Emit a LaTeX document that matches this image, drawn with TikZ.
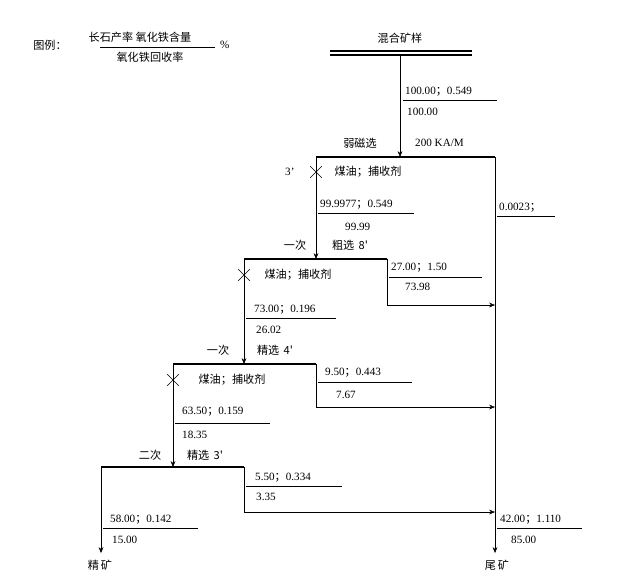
\documentclass[tikz,border=0pt]{standalone}
\usepackage{fontspec}
\setmainfont{Liberation Serif}
\newfontfamily\cjk{Noto Sans CJK SC}
\usetikzlibrary{arrows.meta}
\tikzset{
  bar/.style={line width=2.2pt},
  flow/.style={->, >={Stealth[length=5pt,width=4pt]}},
  lbl/.style={font=\fontsize{9.5}{11}\selectfont\cjk, inner sep=0pt},
  val/.style={font=\fontsize{9.5}{11}\selectfont, inner sep=0pt, anchor=west},
}
\newcommand{\sepc}{{\cjk ；}}
\newcommand{\crossmark}[1]{\draw (#1)++(-5pt,-5pt) -- ++(10pt,10pt) (#1)++(-5pt,5pt) -- ++(10pt,-10pt);}
\begin{document}
\begin{tikzpicture}[x=0.03cm,y=-0.03cm]
\useasboundingbox (0,0) rectangle (643,576);
% legend
\node[lbl] (lg) at (50,45) {图例：};
\node[lbl] (lgn) at (140,37) {长石产率 氧化铁含量};
\draw (100,47) -- (215,47);
\node[lbl] (lgd) at (150,57) {氧化铁回收率};
\node[val] (lgp) at (220,45) {\%};
% feed
\node[lbl] (feed) at (400,38) {混合矿样};
\draw[line width=1.2pt] (330,51) -- (472,51) (330,55) -- (472,55);
\coordinate (f0) at (400,55);
\coordinate (r1) at (400,157);
\draw[flow] (f0) -- (r1);
\node[val] at (405,92) {100.00\sepc 0.549};
\draw (403,100) -- (497,100);
\node[val] at (407,112) {100.00};
% magnetic separation
\node[lbl] (ms) at (360,143) {弱磁选};
\node[val] at (415,143) {200 KA/M};
\draw[bar] (316,157) -- (495,157);
\coordinate (t0) at (495,157);
\coordinate (t1) at (495,553);
\draw[flow] (t0) -- (t1);
\node[lbl] (tail) at (497,565) {尾\,矿};
\node[val] at (285,172) {3'};
\node[lbl] at (368,172) {煤油；捕收剂};
\node[val] at (499,208) {0.0023\sepc};
\draw (497,216) -- (555,216);
% rougher
\coordinate (a0) at (316,157);
\coordinate (a1) at (316,259);
\draw[flow] (a0) -- (a1);
\crossmark{316,172}
\node[val] at (320,205) {99.9977\sepc 0.549};
\draw (318,213) -- (414,213);
\node[val] at (345,227) {99.99};
\node[lbl] at (295,245) {一次};
\node[lbl] at (350,245) {粗选\, 8'};
\draw[bar] (244,259) -- (387,259);
\coordinate (b0) at (387,259);
\draw[flow] (b0) |- (495,305);
\node[val] at (391,268) {27.00\sepc 1.50};
\draw (389,277) -- (482,277);
\node[val] at (405,287) {73.98};
% cleaner 1
\coordinate (c0) at (244,259);
\coordinate (c1) at (244,364);
\draw[flow] (c0) -- (c1);
\crossmark{244,275}
\node[lbl] at (298,275) {煤油；捕收剂};
\node[val] at (254,310) {73.00\sepc 0.196};
\draw (246,318) -- (336,318);
\node[val] at (256,330) {26.02};
\node[lbl] at (218,350) {一次};
\node[lbl] at (275,350) {精选\, 4'};
\draw[bar] (173,364) -- (316,364);
\coordinate (d0) at (316,364);
\draw[flow] (d0) |- (495,407);
\node[val] at (325,373) {9.50\sepc 0.443};
\draw (318,382) -- (412,382);
\node[val] at (336,395) {7.67};
% cleaner 2
\coordinate (e0) at (173,364);
\coordinate (e1) at (173,467);
\draw[flow] (e0) -- (e1);
\crossmark{173,380}
\node[lbl] at (232,380) {煤油；捕收剂};
\node[val] at (182,412) {63.50\sepc 0.159};
\draw (175,423) -- (270,423);
\node[val] at (182,435) {18.35};
\node[lbl] at (150,455) {二次};
\node[lbl] at (205,455) {精选\, 3'};
\draw[bar] (101,467) -- (244,467);
\coordinate (g0) at (244,467);
\draw[flow] (g0) |- (495,512);
\node[val] at (255,478) {5.50\sepc 0.334};
\draw (246,486) -- (342,486);
\node[val] at (256,497) {3.35};
% concentrate
\coordinate (h0) at (101,467);
\coordinate (h1) at (101,553);
\draw[flow] (h0) -- (h1);
\node[lbl] (conc) at (100,565) {精\,矿};
\node[val] at (110,520) {58.00\sepc 0.142};
\draw (103,528) -- (198,528);
\node[val] at (112,540) {15.00};
\node[val] at (500,520) {42.00\sepc 1.110};
\draw (497,528) -- (582,528);
\node[val] at (511,540) {85.00};
\end{tikzpicture}
\end{document}
